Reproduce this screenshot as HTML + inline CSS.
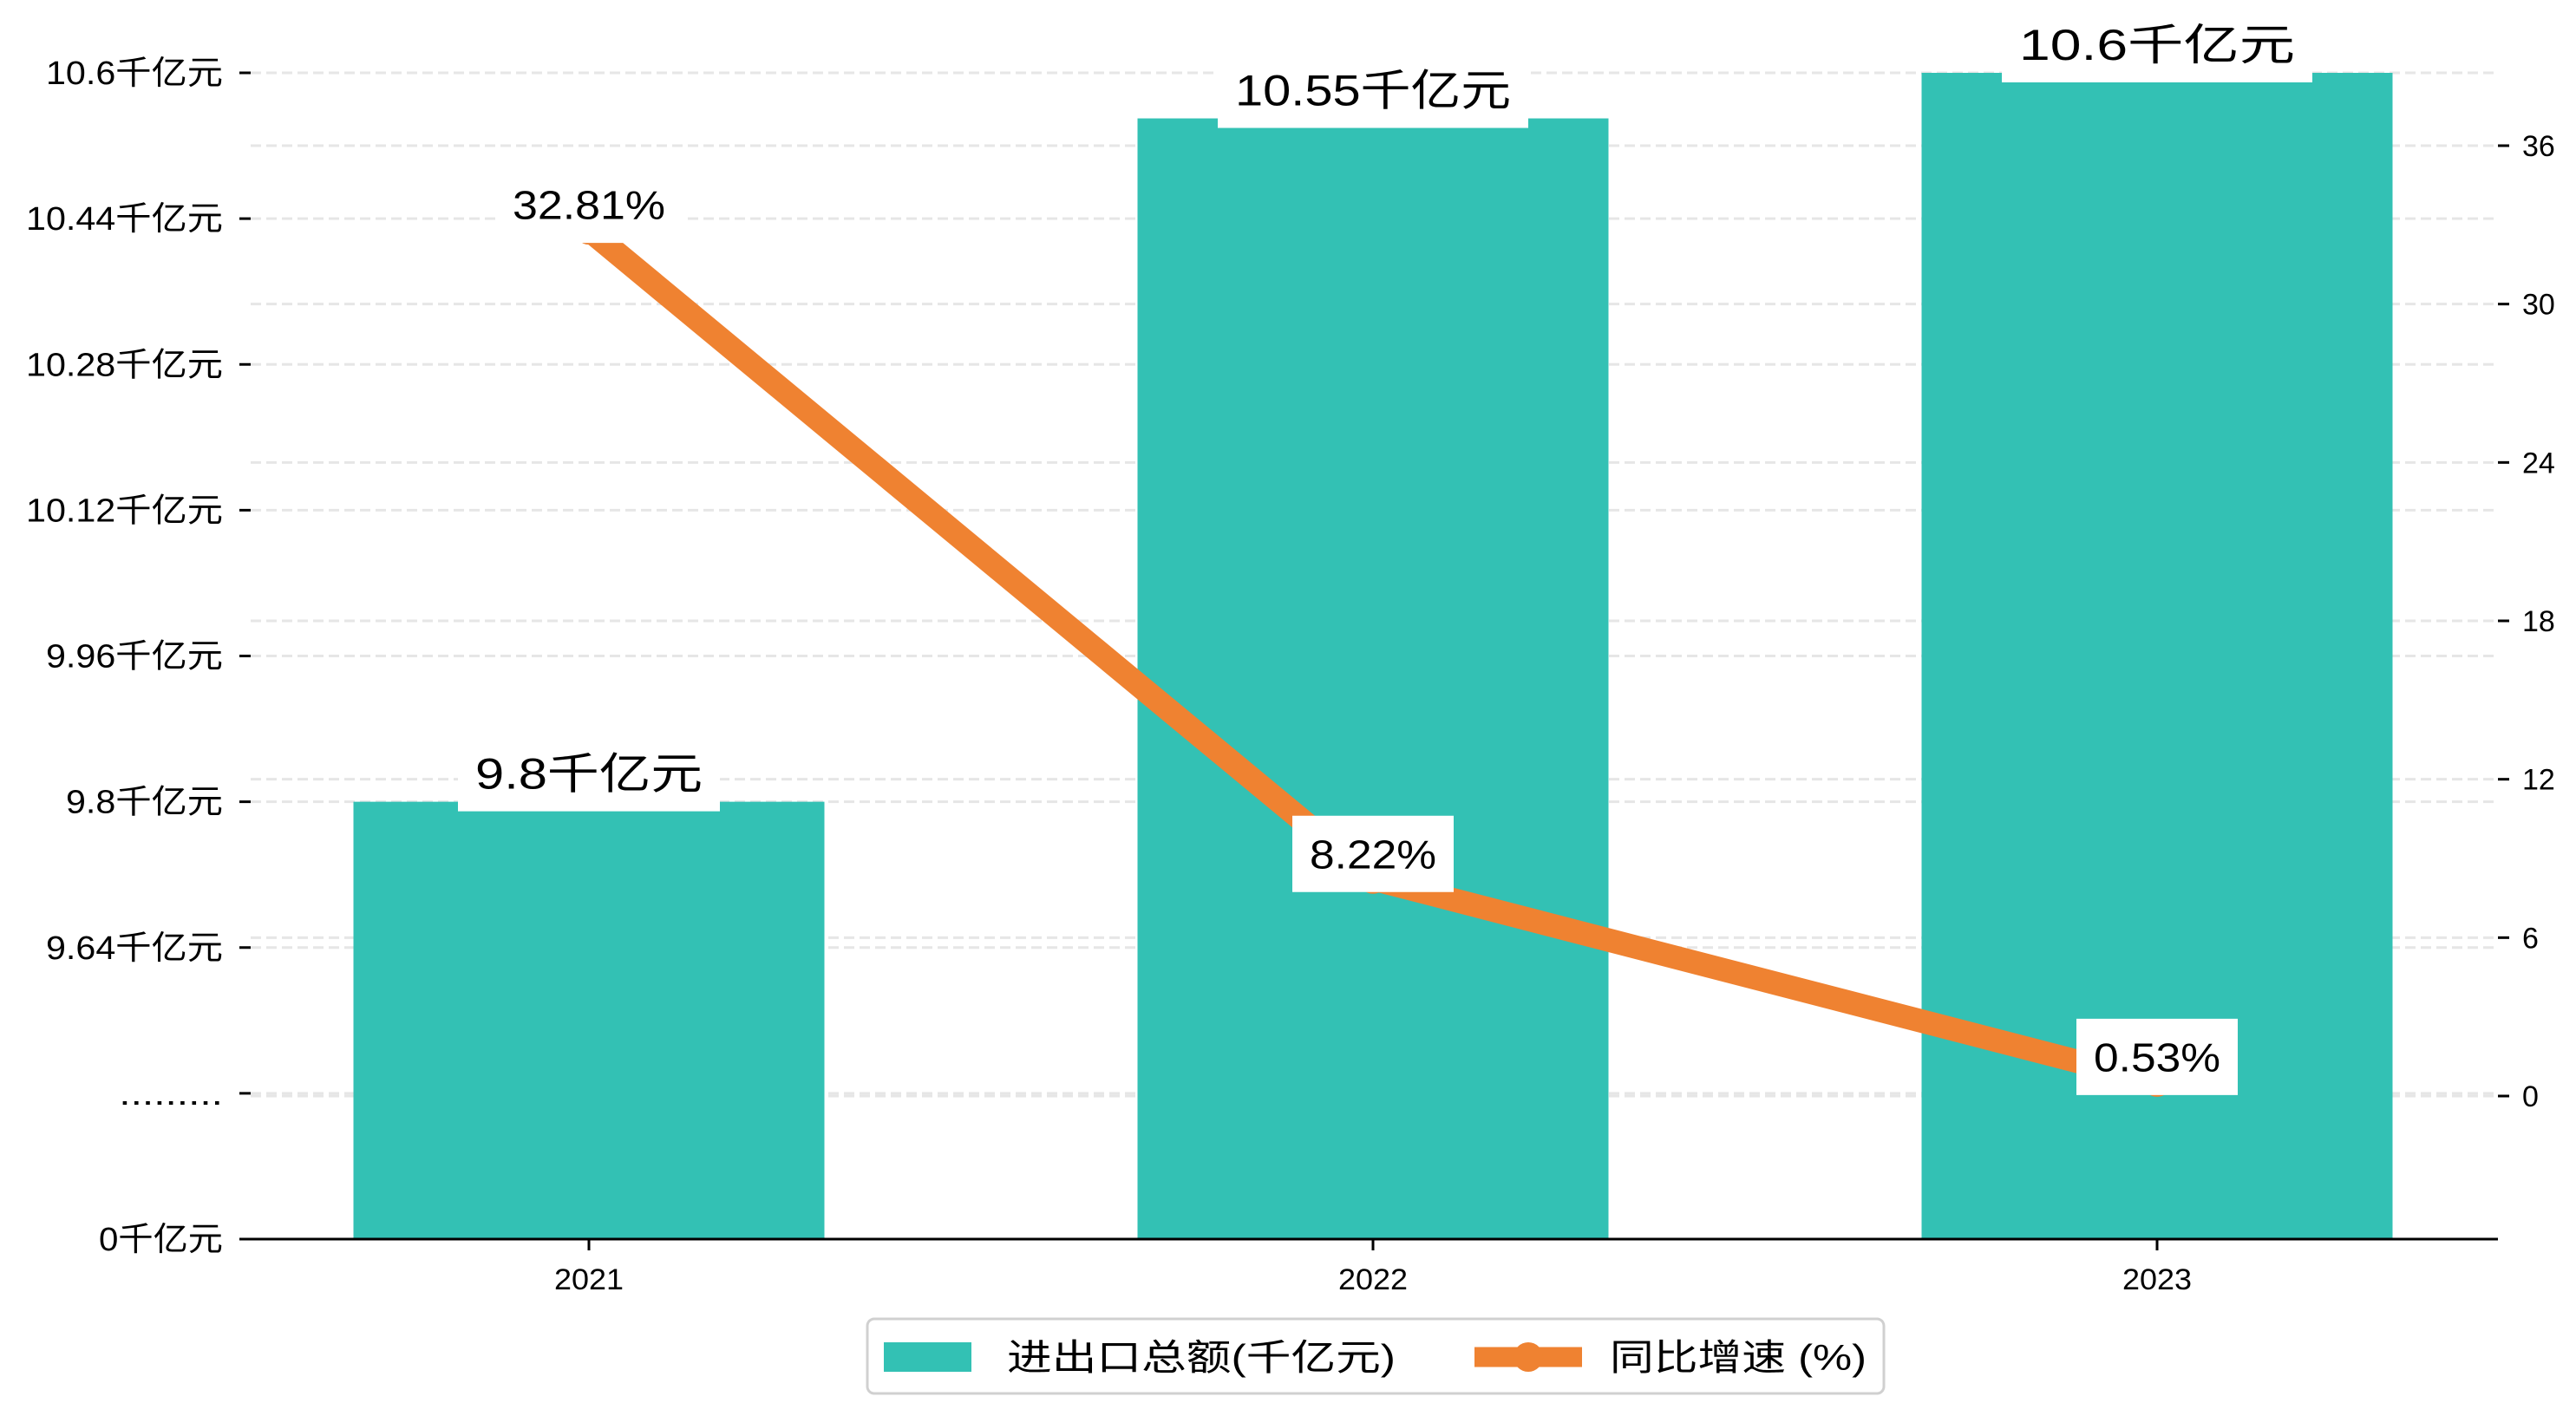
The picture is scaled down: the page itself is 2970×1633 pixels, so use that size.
<!DOCTYPE html>
<html><head><meta charset="utf-8"><style>
html,body{margin:0;padding:0;background:#fff;}
svg{display:block;}
text{font-family:"Liberation Sans","Noto Sans CJK SC",sans-serif;fill:#000;}
</style></head><body>
<svg id="chart" width="2970" height="1633" viewBox="0 0 2970 1633" xmlns="http://www.w3.org/2000/svg">
<g id="grid"></g>
<g id="bars"></g>
<g id="line"></g>
<g id="axes"></g>
<g id="labels"></g>
<g id="legend">
  <rect x="1000" y="1521" width="1172" height="86" rx="8" fill="#fff" stroke="#d0d0d0" stroke-width="3"/>
  <rect x="1019" y="1548" width="101" height="34" fill="#33c1b4"/>
  <text x="1161" y="1580" font-size="42" textLength="448" lengthAdjust="spacingAndGlyphs">进出口总额(千亿元)</text>
  <line x1="1700" y1="1565" x2="1824" y2="1565" stroke="#ef8231" stroke-width="23"/>
  <circle cx="1762" cy="1565" r="17" fill="#ef8231"/>
  <text x="1856" y="1580" font-size="42" textLength="296" lengthAdjust="spacingAndGlyphs">同比增速 (%)</text>
</g>
</svg>
<script>
const categories = ['2021', '2022', '2023'];
const tradeValues = [9.8, 10.55, 10.6];
const growthValues = [32.81, 8.22, 0.53];
const leftTickLabels = ['0千亿元', '.........', '9.64千亿元', '9.8千亿元', '9.96千亿元', '10.12千亿元', '10.28千亿元', '10.44千亿元', '10.6千亿元'];
const rightTickValues = [0, 6, 12, 18, 24, 30, 36];

const NS = 'http://www.w3.org/2000/svg';
const plotL = 289, plotR = 2880, baseY = 1429, topY = 84;
const step = (baseY - topY) / 8;
function xScale(i) { return 679 + i * 904; }
function yLeft(v) { return topY + (10.6 - v) / 0.16 * step; }
function yLeftIndex(k) { return baseY - k * step; }
function yRight(v) { return 1264 - v * (1264 - 168) / 36; }
function mk(tag, attrs, parent) {
  const el = document.createElementNS(NS, tag);
  for (const k in attrs) el.setAttribute(k, attrs[k]);
  parent.appendChild(el);
  return el;
}
function labelWidth(s) {
  let w = 0;
  for (const ch of s) {
    if (/[0-9]/.test(ch)) w += 23;
    else if (ch === '.') w += s.startsWith('..') ? 13.3 : 15;
    else w += 40;
  }
  return w;
}
const grid = document.getElementById('grid'), bars = document.getElementById('bars'),
      lineG = document.getElementById('line'), axes = document.getElementById('axes'),
      labels = document.getElementById('labels');

leftTickLabels.forEach((lab, k) => {
  const y = yLeftIndex(k);
  if (k > 0) {
    const g = mk('line', {x1: plotL, x2: plotR, y1: y, y2: y, stroke: '#e6e6e6', 'stroke-width': 3, 'stroke-dasharray': '12 6'}, grid);
    
    
  }
  const t = mk('line', {x1: 276, x2: 289, y1: y, y2: y, stroke: '#000', 'stroke-width': 3}, axes);
  
  
  const tx = mk('text', {x: 257, y: y + 13, 'font-size': 38, 'text-anchor': 'end', textLength: labelWidth(lab), lengthAdjust: 'spacingAndGlyphs'}, axes);
  tx.textContent = lab;
  
  
});
rightTickValues.forEach(v => {
  const y = yRight(v);
  const g = mk('line', {x1: plotL, x2: plotR, y1: y, y2: y, stroke: '#e6e6e6', 'stroke-width': 3, 'stroke-dasharray': '12 6'}, grid);
  
  
  const t = mk('line', {x1: plotR, x2: plotR + 13, y1: y, y2: y, stroke: '#000', 'stroke-width': 3}, axes);
  
  
  const tx = mk('text', {x: plotR + 28, y: y + 12, 'font-size': 34}, axes);
  tx.textContent = String(v);
  
  
});
const bw = 543;
tradeValues.forEach((v, i) => {
  const x = xScale(i), y = yLeft(v);
  const r = mk('rect', {x: x - bw / 2, y: y, width: bw, height: baseY - y, fill: '#33c1b4'}, bars);
  
  
});
const ax = mk('line', {x1: 276, x2: plotR, y1: baseY, y2: baseY, stroke: '#000', 'stroke-width': 3}, axes);


categories.forEach((c, i) => {
  const x = xScale(i);
  const t = mk('line', {x1: x, x2: x, y1: baseY, y2: baseY + 13, stroke: '#000', 'stroke-width': 3}, axes);
  
  
  const tx = mk('text', {x: x, y: 1487, 'font-size': 34, 'text-anchor': 'middle', textLength: 80, lengthAdjust: 'spacingAndGlyphs'}, axes);
  tx.textContent = c;
  
  
});
const pts = growthValues.map((v, i) => xScale(i) + ',' + yRight(v)).join(' ');
const pl = mk('polyline', {points: pts, fill: 'none', stroke: '#ef8231', 'stroke-width': 27, 'stroke-linejoin': 'round'}, lineG);


growthValues.forEach((v, i) => {
  const c = mk('circle', {cx: xScale(i), cy: yRight(v), r: 17, fill: '#ef8231'}, lineG);
  
  
});
function labelBox(cx, cy, txt, fs, w, name) {
  const h = 88;
  const r = mk('rect', {x: cx - w / 2 - 20, y: cy - h / 2, width: w + 40, height: h, fill: '#fff'}, labels);
  
  
  const t = mk('text', {x: cx, y: cy + fs * 0.36, 'font-size': fs, 'text-anchor': 'middle', textLength: w, lengthAdjust: 'spacingAndGlyphs'}, labels);
  t.textContent = txt;
  
  
}
tradeValues.forEach((v, i) => {
  const txt = v + '千亿元';
  const w = txt.length <= 6 ? 262 : 318;
  labelBox(xScale(i), yLeft(v) - 33, txt, 50, w, 'bar-value-label');
});
growthValues.forEach((v, i) => {
  const txt = v.toFixed(2) + '%';
  const w = txt.length > 5 ? 176 : 146;
  labelBox(xScale(i), yRight(v) - 29, txt, 46, w, 'growth-value-label');
});
</script>
</body></html>
